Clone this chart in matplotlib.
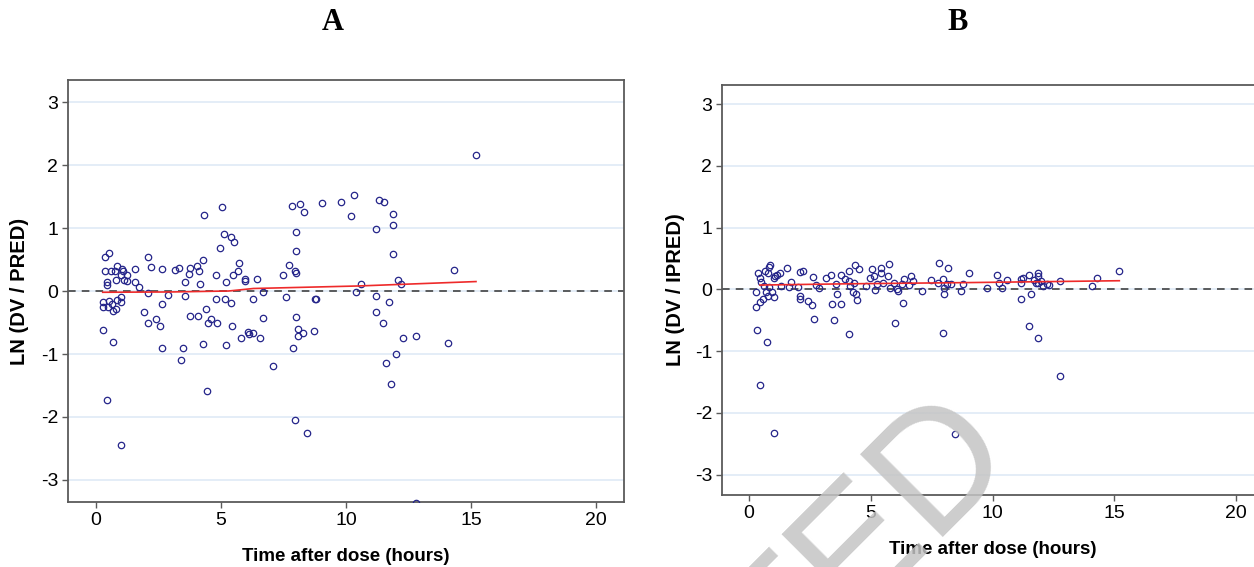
import matplotlib
matplotlib.use("Agg")
import matplotlib.pyplot as plt

# panel A: time after dose (h) vs ln(DV/PRED)
time_a = [0.37, 0.53, 0.37, 0.43, 0.44, 0.60, 0.76, 0.85, 1.04, 1.08, 0.99, 1.24, 0.79, 1.12, 1.24,
          1.57, 1.55, 1.71, 2.09, 2.19, 2.63, 2.08, 3.15, 3.33, 3.55, 3.56, 2.87, 2.65, 3.76, 3.73,
          4.05, 4.13, 4.16, 4.28, 4.33, 5.03, 4.80, 4.80, 5.16, 5.39, 4.40, 5.20, 4.97, 5.12, 5.41,
          5.52, 5.71, 5.68, 5.47, 5.96, 5.98, 6.43, 6.29, 6.69, 6.68, 7.48, 7.72, 7.95, 8.00, 7.61,
          8.01, 8.00, 7.84, 8.17, 8.31, 8.00, 8.75, 8.80, 9.05, 9.80, 10.20, 10.31, 10.39, 10.60,
          0.27, 0.27, 0.51, 0.49, 0.65, 0.69, 0.85, 1.00, 1.00, 0.80, 1.93, 2.41, 3.76, 4.07, 4.59,
          0.29, 0.69, 0.43, 1.00, 2.07, 2.55, 2.65, 3.40, 3.47, 4.49, 4.83, 4.28, 4.43, 5.20, 5.45,
          5.80, 6.09, 6.12, 6.29, 6.57, 7.09, 7.89, 8.07, 8.07, 8.27, 8.71, 7.97, 8.44,
          11.31, 11.51, 11.89, 11.89, 11.20, 11.89, 14.31, 15.20, 12.09, 12.20, 11.20, 11.71, 11.20,
          11.49, 12.29, 12.80, 14.09, 12.00, 11.60, 11.80, 12.80]
res_a = [0.54, 0.60, 0.31, 0.15, 0.10, 0.32, 0.32, 0.39, 0.35, 0.32, 0.25, 0.26, 0.17, 0.17, 0.16,
         0.35, 0.15, 0.06, 0.54, 0.38, 0.35, -0.03, 0.33, 0.37, 0.14, -0.08, -0.06, -0.21, 0.37, 0.27,
         0.40, 0.31, 0.11, 0.50, 1.20, 1.34, 0.26, -0.13, -0.13, -0.19, -0.28, 0.14, 0.68, 0.90, 0.86,
         0.78, 0.45, 0.32, 0.26, 0.19, 0.16, 0.19, -0.12, -0.01, -0.43, 0.26, 0.41, 0.32, 0.29, -0.10,
         0.64, 0.94, 1.35, 1.38, 1.26, -0.42, -0.12, -0.13, 1.40, 1.41, 1.19, 1.53, -0.01, 0.11,
         -0.18, -0.26, -0.16, -0.26, -0.21, -0.31, -0.14, -0.10, -0.17, -0.29, -0.33, -0.45, -0.39, -0.39, -0.44,
         -0.62, -0.81, -1.73, -2.44, -0.51, -0.55, -0.90, -1.09, -0.91, -0.50, -0.50, -0.84, -1.59, -0.85, -0.55,
         -0.75, -0.65, -0.68, -0.67, -0.75, -1.19, -0.90, -0.61, -0.72, -0.66, -0.63, -2.05, -2.26,
         1.45, 1.41, 1.23, 1.05, 0.98, 0.58, 0.33, 2.16, 0.17, 0.11, -0.08, -0.17, -0.34,
         -0.51, -0.74, -0.71, -0.83, -1.00, -1.15, -1.48, -3.36]
smooth_t_a = [0.27, 3.0, 5.3, 5.8, 6.3, 10.5, 15.2]
smooth_a = [-0.02, -0.015, 0.0, 0.02, 0.04, 0.08, 0.15]

# panel B: time after dose (h) vs ln(DV/IPRED)
time_b = [0.29, 0.33, 0.45, 0.72, 1.02, 0.30, 0.38, 0.45, 0.49, 0.65, 0.83, 0.87, 0.76, 1.06, 1.16,
          1.27, 1.01, 0.63, 0.71, 0.76, 0.56, 0.46, 1.02, 0.93, 0.83, 1.31, 1.56, 1.73, 1.62, 2.09,
          2.22, 1.99, 2.09, 2.09, 2.42, 2.57, 2.67, 2.64, 2.73, 2.88, 3.16, 3.35, 3.41, 3.47, 3.55,
          3.59, 3.76, 3.76, 3.92, 4.09, 4.09, 4.12, 4.16, 4.33, 4.30, 4.27, 4.40, 4.44, 4.53, 4.80,
          4.98, 5.05, 5.11, 5.18, 5.25, 5.43, 5.43, 5.50, 5.70, 5.73, 5.80, 5.97, 5.96, 6.08, 6.11,
          6.30, 6.37, 6.27, 6.63, 6.72, 6.58, 7.09, 7.48, 7.77, 7.81, 8.18, 7.97, 8.00, 8.01, 7.97,
          8.11, 8.29, 8.44, 8.69, 8.78, 9.03, 9.77, 10.19, 10.26, 10.37, 10.60, 11.17, 11.24, 11.17,
          11.48, 11.71, 11.88, 11.88, 11.85, 11.99, 12.05, 12.22, 12.30, 11.78, 11.18, 11.58, 11.48,
          11.88, 12.78, 12.78, 14.07, 14.27, 15.18]
res_b = [-0.28, -0.65, -1.55, -0.86, -2.32, -0.04, 0.27, 0.19, 0.12, 0.30, 0.37, 0.39, 0.27, 0.22, 0.24,
         0.26, 0.18, 0.05, -0.04, -0.11, -0.16, -0.20, -0.12, -0.04, 0.04, 0.05, 0.35, 0.12, 0.04, 0.28,
         0.29, 0.04, -0.10, -0.15, -0.19, -0.26, -0.48, 0.20, 0.07, 0.03, 0.19, 0.24, -0.23, -0.49, 0.09,
         -0.07, 0.24, -0.24, 0.17, -0.73, 0.14, 0.30, 0.05, 0.40, 0.11, -0.05, -0.08, -0.17, 0.33, 0.05,
         0.19, 0.33, 0.22, -0.01, 0.08, 0.35, 0.27, 0.11, 0.22, 0.41, 0.03, -0.54, 0.11, 0.00, -0.03,
         -0.22, 0.17, 0.08, 0.22, 0.14, 0.07, -0.03, 0.15, 0.10, 0.43, 0.34, 0.16, 0.03, -0.07, -0.71,
         0.08, 0.09, -2.34, -0.03, 0.09, 0.26, 0.02, 0.23, 0.11, 0.03, 0.15, 0.17, 0.19, 0.11,
         0.23, 0.15, 0.26, 0.21, 0.11, 0.14, 0.05, 0.08, 0.07, 0.10, -0.15, -0.07, -0.59,
         -0.79, 0.13, -1.40, 0.05, 0.18, 0.29]
smooth_t_b = [0.45, 4.0, 9.0, 15.2]
smooth_b = [0.07, 0.09, 0.11, 0.14]

yticks = [-3, -2, -1, 0, 1, 2, 3]
xticks = [0, 5, 10, 15, 20]

plt.rcParams['font.family'] = ['Liberation Sans', 'DejaVu Sans']
plt.rcParams['axes.unicode_minus'] = False

fig = plt.figure(figsize=(12.54, 5.67), dpi=100)
ax_a = fig.add_axes([0.0542, 0.1146, 0.4434, 0.7443])
ax_b = fig.add_axes([0.5758, 0.1270, 0.4314, 0.7231])

panels = [
    (ax_a, time_a, res_a, smooth_t_a, smooth_a, 'LN (DV / PRED)', (-1.12, 21.12), (-3.35, 3.35), -0.0863, -0.128),
    (ax_b, time_b, res_b, smooth_t_b, smooth_b, 'LN (DV / IPRED)', (-1.11, 21.1), (-3.33, 3.31), -0.0869, -0.132),
]

for ax, t, r, st, sr, ylab, xl, yl, ylx, xly in panels:
    ax.set_xlim(*xl)
    ax.set_ylim(*yl)
    ax.set_yticks(yticks)
    ax.set_xticks(xticks)
    ax.grid(axis='y', color='#dce8f5', lw=1.1, zorder=0)
    ax.set_axisbelow(True)
    ax.axhline(0, color='#333333', lw=1.1, dashes=(5, 4), zorder=2)
    ax.plot(t, r, 'o', ms=4.6, mfc='none', mec='#25258a', mew=0.9, zorder=3)
    ax.plot(st, sr, color='#ee2a2a', lw=1.2, zorder=4)
    for s in ax.spines.values():
        s.set_color('#5a5a5a')
        s.set_linewidth(1.3)
    ax.tick_params(length=4, width=1.0, color='#5a5a5a', labelsize=14, pad=3)
    ax.set_ylabel(ylab, fontsize=14.5, fontweight='bold')
    ax.yaxis.set_label_coords(ylx, 0.5)
    ax.set_xlabel('Time after dose (hours)', fontsize=13.5, fontweight='bold')
    ax.xaxis.set_label_coords(0.5, xly)
    ax.xaxis.label.set_va('center')
    ax.yaxis.label.set_va('center')

fig.text(333 / 1254, 1 - 23 / 567, 'A', family='Liberation Serif', fontweight='bold',
         fontsize=22, ha='center', va='center')
fig.text(958 / 1254, 1 - 23 / 567, 'B', family='Liberation Serif', fontweight='bold',
         fontsize=22, ha='center', va='center')

# diagonal watermark, only its end shows
fig.text(1020 / 1254, 107 / 567, 'ACCEPTED', fontsize=121, color='#c4c4c4', alpha=0.85,
         rotation=45, rotation_mode='anchor', ha='right', va='baseline', zorder=10)

fig.savefig('out.png', dpi=100)
